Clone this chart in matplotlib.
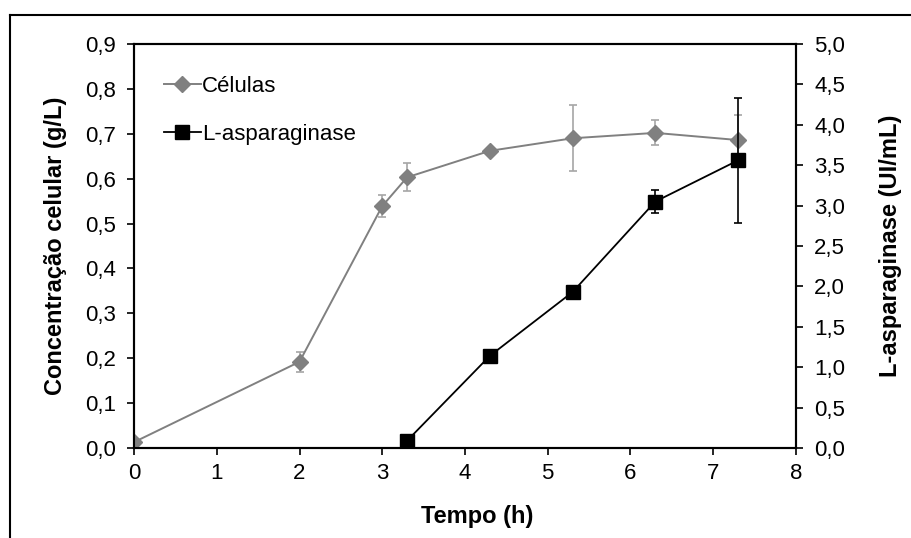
import matplotlib
matplotlib.use('Agg')
import matplotlib.pyplot as plt
from matplotlib.lines import Line2D
from matplotlib.ticker import FuncFormatter

plt.rcParams['font.family'] = ['Liberation Sans', 'DejaVu Sans']

# Dados do cultivo
tempo_cel = [0, 2, 3, 3.3, 4.3, 5.3, 6.3, 7.3]
celulas = [0.013, 0.192, 0.539, 0.603, 0.662, 0.690, 0.702, 0.686]
celulas_err = [0.0, 0.022, 0.025, 0.031, 0.0, 0.073, 0.028, 0.056]

tempo_asp = [3.3, 4.3, 5.3, 6.3, 7.3]
asparaginase = [0.09, 1.14, 1.93, 3.05, 3.56]
asparaginase_err = [0.0, 0.0, 0.0, 0.145, 0.77]

fig = plt.figure(figsize=(9.11, 5.38), dpi=100)
ax = fig.add_axes([134 / 911, 90 / 538, 662 / 911, 404 / 538])
ax2 = ax.twinx()

# moldura externa
fig.add_artist(Line2D([10 / 911, 10 / 911], [0, 1 - 15 / 538],
                      color='black', lw=1.5, transform=fig.transFigure))
fig.add_artist(Line2D([10 / 911, 1], [1 - 15 / 538, 1 - 15 / 538],
                      color='black', lw=1.5, transform=fig.transFigure))

ax.errorbar(tempo_cel, celulas, yerr=celulas_err, color='#808080',
            ecolor='#a6a6a6', elinewidth=1.2, capsize=3, capthick=1.2,
            marker='D', markersize=8.5, lw=1.4, zorder=3)
ax2.errorbar(tempo_asp, asparaginase, yerr=asparaginase_err, color='black',
             ecolor='black', elinewidth=1.2, capsize=3, capthick=1.2,
             marker='s', markersize=10.5, lw=1.3, zorder=3)

fmt1 = FuncFormatter(lambda v, p: f'{v:.1f}'.replace('.', ','))
ax.set_xlim(0, 8)
ax.set_ylim(0, 0.9)
ax2.set_ylim(0, 5)
ax.set_xticks(range(0, 9))
ax.set_yticks([i / 10 for i in range(10)])
ax2.set_yticks([i / 2 for i in range(11)])
ax.yaxis.set_major_formatter(fmt1)
ax2.yaxis.set_major_formatter(fmt1)

for a in (ax, ax2):
    for s in a.spines.values():
        s.set_linewidth(1.5)
    a.tick_params(direction='out', length=5, width=1.2, labelsize=16)
ax.tick_params(axis='y', pad=8)
ax.tick_params(axis='x', pad=6)
ax2.tick_params(axis='y', pad=8)

ax.set_xlabel('Tempo (h)', fontsize=17, fontweight='bold')
ax.xaxis.set_label_coords(0.518, -0.141)
ax.set_ylabel('Concentração celular (g/L)', fontsize=17, fontweight='bold',
              va='center')
ax.yaxis.set_label_coords(-0.118, 0.5)
ax2.set_ylabel('L-asparaginase (UI/mL)', fontsize=17, fontweight='bold',
               va='center')
ax2.yaxis.set_label_coords(1.142, 0.5)

handles = [
    Line2D([], [], color='#808080', marker='D', markersize=8.5, lw=1.4),
    Line2D([], [], color='black', marker='s', markersize=10.5, lw=1.3),
]
ax.legend(handles, ['Células', 'L-asparaginase'], loc='upper left',
          bbox_to_anchor=(0.015, 0.97), frameon=False, fontsize=16,
          handlelength=1.65, handletextpad=0.05, labelspacing=1.2)

fig.savefig('out.png', dpi=100)
